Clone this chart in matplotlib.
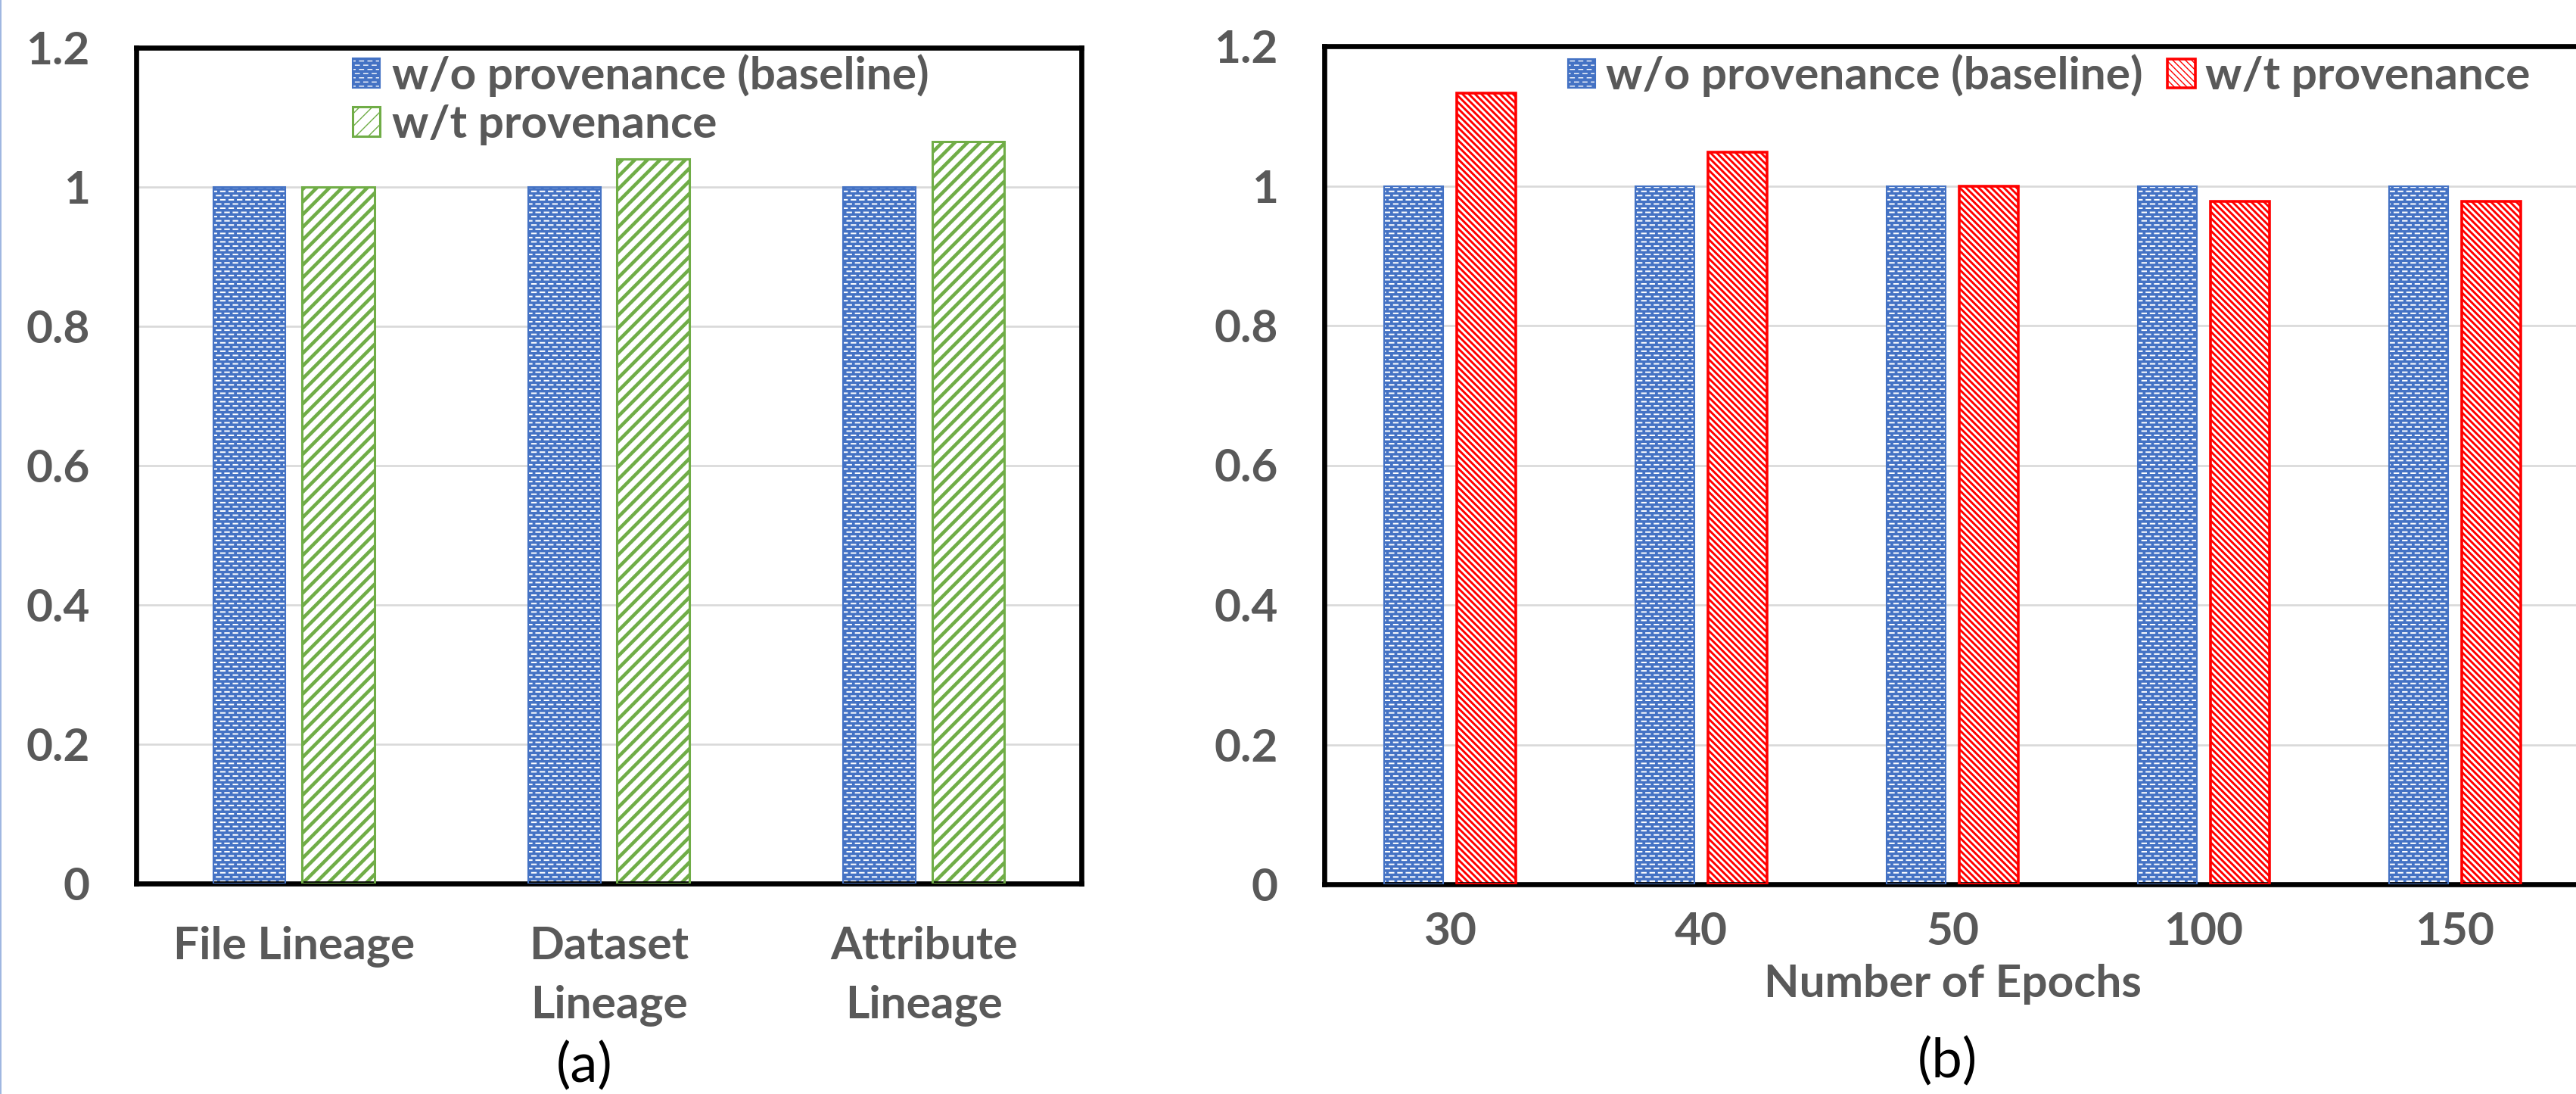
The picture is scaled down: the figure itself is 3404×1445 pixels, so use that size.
import numpy as np
import matplotlib
matplotlib.use("Agg")
import matplotlib.pyplot as plt
import matplotlib.hatch as mhatch
from matplotlib.lines import Line2D

# ---------------- data ----------------
left_categories = ['File Lineage', 'Dataset\nLineage', 'Attribute\nLineage']
left_baseline = [1.0, 1.0, 1.0]
left_prov = [1.0, 1.04, 1.065]

right_categories = ['30', '40', '50', '100', '150']
right_baseline = [1.0, 1.0, 1.0, 1.0, 1.0]
right_prov = [1.133, 1.048, 1.0, 0.978, 0.978]

series_labels = ['w/o provenance (baseline)', 'w/t provenance']
yticks = [0, 0.2, 0.4, 0.6, 0.8, 1, 1.2]
ytick_labels = ['0', '0.2', '0.4', '0.6', '0.8', '1', '1.2']


# ---------- custom dashed-horizontal hatch (Excel-like "dashed" pattern) ----------
class DashedHorizontalHatch(mhatch.HatchPatternBase):
    def __init__(self, hatch, density):
        nrows = int((hatch.count('-') + hatch.count('+')) * density)
        per_row = 9
        period = 1.0 / per_row
        dash = period * 0.48
        segs = []
        for i in range(nrows):
            y = (i + 0.5) / nrows
            off = (period / 2.0) * (i % 2) + period * 0.26
            for j in range(per_row):
                x0 = (j * period + off) % 1.0
                x1 = x0 + dash
                if x1 <= 1.0:
                    segs.append((x0, x1, y))
                else:
                    segs.append((x0, 1.0, y))
                    segs.append((0.0, x1 - 1.0, y))
        self.segs = segs
        self.num_vertices = 2 * len(segs)

    def set_vertices_and_codes(self, vertices, codes):
        for k, (x0, x1, y) in enumerate(self.segs):
            vertices[2 * k] = (x0, y)
            vertices[2 * k + 1] = (x1, y)
            codes[2 * k] = matplotlib.path.Path.MOVETO
            codes[2 * k + 1] = matplotlib.path.Path.LINETO


mhatch._hatch_types = [DashedHorizontalHatch if t is mhatch.HorizontalHatch else t
                       for t in mhatch._hatch_types]

# ---------------- style ----------------
FONT = 'Lato'
GREY = '#595959'
BLUE = '#4472C4'
GREEN = '#70AD47'
RED = '#FF0000'
GRID = '#D9D9D9'
TICK_FS = 43.5

plt.rcParams['font.family'] = [FONT, 'DejaVu Sans']

W, H = 3405, 1445
DPI = 100
fig = plt.figure(figsize=(W / DPI, H / DPI), dpi=DPI)


def px2fig(x0, y0, x1, y1):
    return [x0 / W, 1 - y1 / H, (x1 - x0) / W, (y1 - y0) / H]


def hatched_bars(ax, x, vals, width, face, hatch_col, border, hatch, hlw, blw):
    b1 = ax.bar(x, vals, width, color=face, edgecolor=hatch_col, linewidth=0,
                hatch=hatch, zorder=2)
    for p in b1:
        if hasattr(p, 'set_hatch_linewidth'):
            p.set_hatch_linewidth(hlw)
        else:
            p._hatch_linewidth = hlw
    b2 = ax.bar(x, vals, width, fill=False, edgecolor=border, linewidth=blw, zorder=3)
    return b1, b2


def style_axes(ax, nx):
    ax.set_ylim(0, 1.2)
    ax.set_xlim(-0.5, nx - 0.5)
    ax.set_yticks(yticks)
    ax.set_yticklabels(ytick_labels)
    ax.set_axisbelow(True)
    ax.yaxis.grid(True, color=GRID, linewidth=1.9, zorder=0)
    for s in ax.spines.values():
        s.set_color('black')
        s.set_linewidth(4.8)
    ax.tick_params(axis='both', length=0, labelsize=TICK_FS, labelcolor=GREY)
    ax.tick_params(axis='y', pad=44)
    for lab in ax.get_xticklabels() + ax.get_yticklabels():
        lab.set_fontweight('bold')
        lab.set_fontfamily(FONT)


BW = 0.23
OFF = 0.141

# ---------------- left panel ----------------
axL = fig.add_axes(px2fig(180, 63, 1429, 1167))
xl = np.arange(len(left_categories))
bl = hatched_bars(axL, xl - OFF, left_baseline, BW, BLUE, 'white', BLUE, '---', 1.45, 1.5)
gl = hatched_bars(axL, xl + OFF, left_prov, BW, 'white', GREEN, GREEN, '//', 3.3, 2.2)
style_axes(axL, len(left_categories))
axL.set_xticks(xl)
axL.set_xticklabels(left_categories, fontweight='bold', fontfamily=FONT,
                    linespacing=1.55)
axL.tick_params(axis='x', pad=40)
axL.legend([bl, gl], series_labels, loc='center left', bbox_to_anchor=(0.229, 0.938),
           frameon=False, borderpad=0, borderaxespad=0, ncol=1,
           handlelength=0.6, handleheight=0.6, handletextpad=0.26, labelspacing=0.17,
           prop=dict(family=FONT, weight='bold', size=TICK_FS), labelcolor=GREY)

# ---------------- right panel ----------------
axR = fig.add_axes(px2fig(1750, 61, 3410, 1168))
xr = np.arange(len(right_categories))
br = hatched_bars(axR, xr - 0.145, right_baseline, 0.235, BLUE, 'white', BLUE, '---', 1.45, 1.5)
rr = hatched_bars(axR, xr + 0.145, right_prov, 0.235, 'white', RED, RED, '\\\\\\\\', 2.1, 2.6)
style_axes(axR, len(right_categories))
axR.set_xticks(xr)
axR.set_xticklabels(right_categories, fontweight='bold', fontfamily=FONT)
axR.tick_params(axis='x', pad=26)
axR.set_xlabel('Number of Epochs', fontsize=TICK_FS, fontweight='bold', color=GREY,
               fontfamily=FONT, labelpad=11)
axR.legend([br, rr], series_labels, loc='center left', bbox_to_anchor=(0.194, 0.965),
           frameon=False, borderpad=0, borderaxespad=0, ncol=2, columnspacing=0.55,
           handlelength=0.6, handleheight=0.6, handletextpad=0.22,
           prop=dict(family=FONT, weight='bold', size=TICK_FS), labelcolor=GREY)

# ---------------- sub-captions ----------------
fig.text(772 / W, 1 - 1408 / H, '(a)', ha='center', va='center', fontsize=52,
         color='black', fontfamily=FONT)
fig.text(2573 / W, 1 - 1402 / H, '(b)', ha='center', va='center', fontsize=52,
         color='black', fontfamily=FONT)

# thin blue edge line at the far left of the image
fig.add_artist(Line2D([0.0004, 0.0004], [0, 1], transform=fig.transFigure,
                      color='#8EA9DB', linewidth=1.2))

fig.savefig('out.png', dpi=DPI)
